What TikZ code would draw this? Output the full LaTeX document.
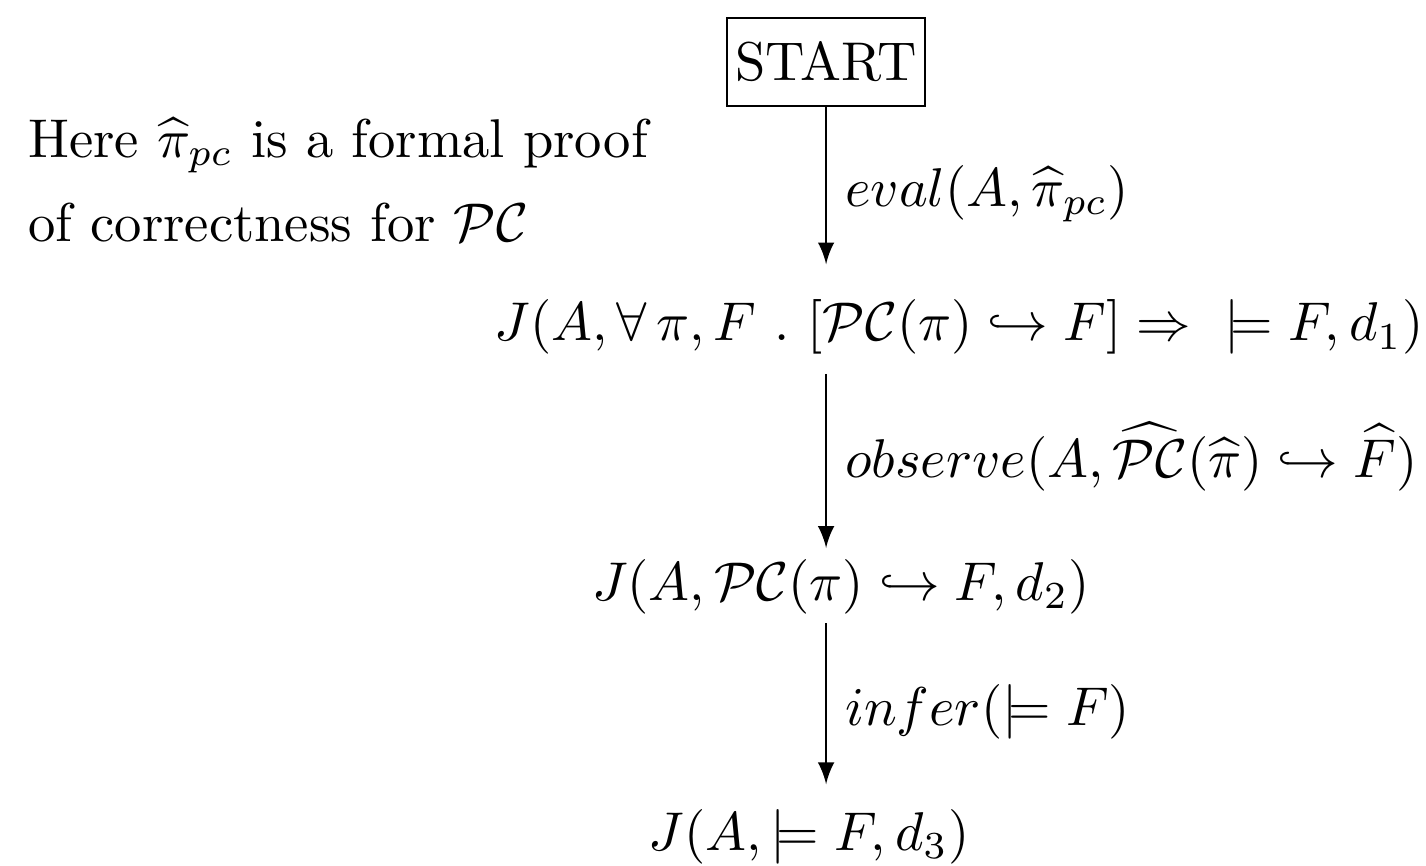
\documentclass[tikz,border=0pt]{standalone}
\usepackage{amsmath}
\usepackage{amssymb}
\usepackage{tikz}

\begin{document}
\begin{tikzpicture}[>=latex, arr/.style={->, shorten >=1pt}]
        \useasboundingbox (0,0) rectangle (9.18,-5.57);
        \node[draw, inner xsep=1.5pt, minimum height=16pt] (start) at (5.318,-0.399) {START};
        \node[anchor=base west, align=left] (note) at (0.058,-1.552) {Here $\widehat{\pi}_{pc}$ is a formal proof\\[3.3pt]of correctness for $\mathcal{PC}$};
        \node[anchor=base] (f1) at (6.174,-2.195) {$J(A,\forall\,\pi,F\ .\ [\mathcal{PC}(\pi)\hookrightarrow F]\Rightarrow\ \;\models F,d_1)$};
        \node[anchor=base] (f2) at (5.414,-3.863) {$J(A,\mathcal{PC}(\pi)\hookrightarrow F,d_2)$};
        \node[anchor=base] (f3) at (5.208,-5.472) {$J(A,\models F,d_3)$};
        \draw[arr, shorten >=3pt] (start.south) -- (start |- f1.north) node[midway,right] {$eval(A,\widehat{\pi}_{pc})$};
        \draw[arr, shorten >=-1.5pt] (start |- f1.south) -- (start |- f2.north) node[midway,right] {$observe(A,\widehat{\mathcal{PC}}(\widehat{\pi})\hookrightarrow\widehat{F})$};
        \draw[arr, shorten <=-1.8pt] (start |- f2.south) -- (start |- f3.north) node[midway,right] {$infer(\models F)$};
\end{tikzpicture}
\end{document}
